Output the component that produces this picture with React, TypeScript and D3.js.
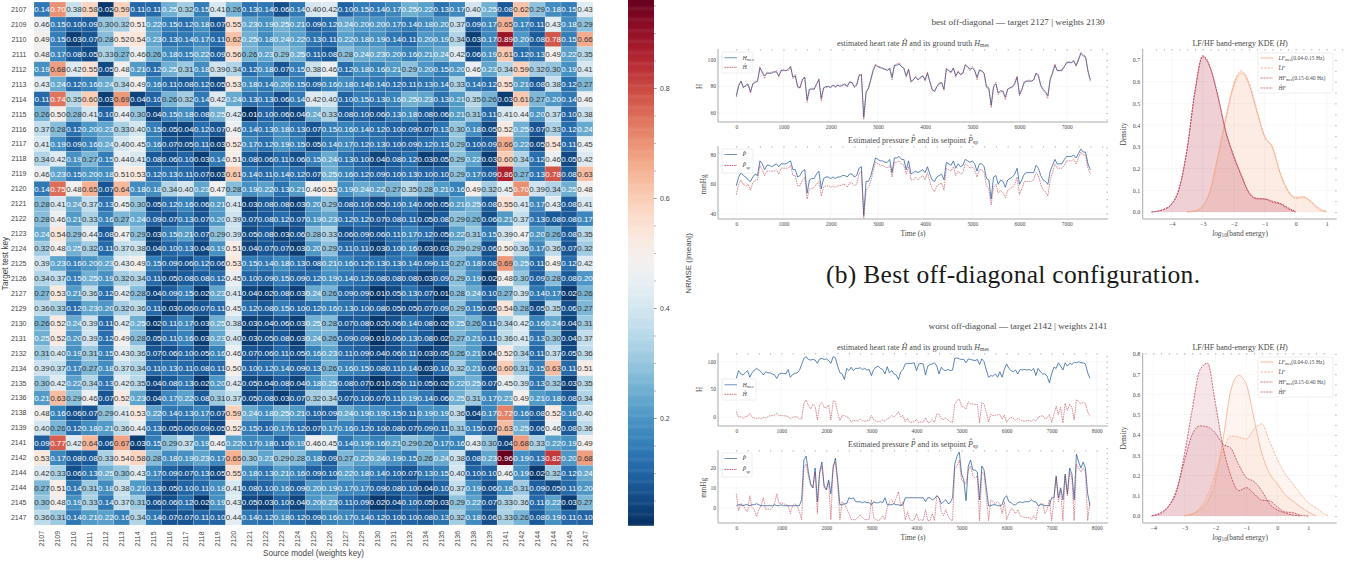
import * as d3 from "d3";
import { useRef, useEffect } from "react";

const keys = ["2107","2109","2110","2111","2112","2113","2114","2115","2116","2117","2118","2119","2120","2121","2122","2123","2124","2125","2126","2127","2129","2130","2131","2132","2134","2135","2136","2138","2139","2141","2142","2144","2144","2145","2147"];

const nrmse = [
  [.14,.70,.38,.58,.02,.59,.11,.11,.25,.32,.15,.41,.26,.13,.14,.06,.14,.40,.42,.10,.15,.14,.17,.25,.22,.13,.17,.40,.25,.08,.62,.29,.18,.15,.43],
  [.46,.15,.10,.09,.30,.32,.51,.22,.15,.12,.18,.07,.55,.23,.19,.25,.21,.09,.12,.24,.20,.20,.17,.14,.18,.20,.37,.09,.17,.65,.17,.11,.43,.18,.29],
  [.49,.15,.03,.07,.28,.52,.54,.23,.13,.14,.17,.11,.62,.25,.18,.24,.22,.13,.11,.22,.18,.19,.14,.11,.20,.19,.34,.03,.17,.89,.20,.08,.78,.15,.66],
  [.48,.17,.08,.05,.33,.27,.46,.26,.18,.15,.22,.09,.56,.26,.23,.29,.25,.11,.08,.28,.24,.23,.20,.16,.21,.24,.42,.06,.19,.61,.12,.13,.49,.22,.35],
  [.19,.68,.42,.55,.05,.48,.21,.12,.25,.31,.18,.39,.34,.12,.18,.07,.15,.38,.46,.12,.18,.16,.21,.29,.20,.15,.20,.46,.23,.34,.59,.32,.30,.19,.41],
  [.43,.24,.12,.16,.24,.34,.49,.16,.11,.08,.12,.05,.53,.18,.14,.20,.15,.09,.16,.18,.14,.14,.12,.11,.13,.14,.33,.14,.12,.55,.21,.08,.38,.12,.27],
  [.11,.74,.35,.60,.03,.69,.04,.10,.26,.32,.14,.42,.24,.13,.13,.06,.14,.42,.40,.10,.15,.13,.16,.25,.23,.13,.21,.35,.26,.03,.61,.27,.20,.14,.46],
  [.26,.50,.28,.41,.10,.44,.30,.04,.15,.18,.08,.25,.42,.01,.10,.06,.04,.24,.33,.08,.10,.06,.13,.18,.08,.06,.21,.31,.11,.41,.44,.20,.37,.10,.38],
  [.37,.28,.12,.20,.23,.33,.40,.15,.05,.04,.12,.07,.46,.14,.13,.18,.13,.07,.15,.16,.14,.12,.10,.09,.07,.13,.30,.18,.05,.52,.25,.07,.33,.12,.24],
  [.41,.19,.09,.16,.24,.40,.45,.16,.07,.05,.11,.03,.52,.17,.12,.19,.15,.05,.14,.17,.12,.13,.10,.09,.12,.13,.29,.10,.09,.66,.22,.05,.54,.11,.45],
  [.34,.42,.19,.27,.15,.44,.41,.08,.06,.10,.03,.14,.51,.08,.06,.11,.06,.15,.24,.13,.10,.04,.08,.12,.03,.05,.29,.22,.03,.60,.34,.12,.46,.05,.42],
  [.46,.23,.15,.20,.18,.51,.53,.12,.13,.11,.07,.03,.61,.14,.11,.14,.12,.07,.25,.16,.12,.09,.10,.13,.10,.10,.29,.17,.09,.86,.27,.13,.78,.08,.63],
  [.14,.75,.48,.65,.07,.64,.18,.18,.34,.40,.23,.47,.28,.19,.22,.13,.21,.46,.53,.19,.24,.22,.27,.35,.28,.21,.16,.49,.32,.45,.70,.39,.34,.25,.48],
  [.28,.41,.24,.37,.13,.45,.30,.05,.12,.16,.06,.21,.41,.03,.08,.08,.03,.20,.29,.08,.10,.05,.10,.14,.06,.05,.21,.25,.08,.55,.41,.17,.43,.08,.41],
  [.28,.46,.21,.33,.16,.27,.24,.09,.07,.13,.07,.20,.39,.07,.08,.12,.07,.19,.23,.12,.12,.07,.08,.11,.05,.08,.29,.26,.06,.21,.37,.13,.08,.08,.17],
  [.24,.54,.29,.44,.08,.47,.29,.03,.15,.21,.07,.29,.39,.05,.08,.03,.06,.28,.33,.06,.09,.06,.11,.17,.12,.05,.22,.31,.15,.39,.47,.20,.26,.08,.35],
  [.32,.48,.25,.32,.11,.37,.38,.04,.10,.13,.04,.19,.51,.04,.07,.07,.03,.20,.29,.11,.11,.03,.10,.16,.03,.03,.29,.29,.06,.50,.36,.17,.36,.07,.32],
  [.39,.23,.16,.20,.23,.43,.49,.15,.09,.06,.12,.06,.53,.15,.14,.18,.13,.08,.21,.16,.12,.13,.13,.14,.09,.13,.27,.18,.08,.69,.25,.11,.49,.12,.42],
  [.34,.37,.15,.25,.19,.32,.34,.11,.05,.08,.08,.12,.45,.10,.09,.15,.09,.12,.19,.14,.12,.08,.08,.08,.03,.09,.29,.19,.02,.48,.30,.09,.28,.08,.20],
  [.27,.53,.21,.36,.12,.42,.28,.04,.09,.15,.02,.23,.41,.04,.02,.08,.03,.24,.26,.09,.09,.01,.05,.13,.07,.01,.28,.24,.10,.27,.39,.14,.17,.02,.26],
  [.36,.33,.12,.23,.20,.32,.36,.11,.03,.06,.07,.11,.45,.12,.08,.15,.10,.12,.16,.13,.10,.08,.05,.05,.07,.09,.29,.15,.05,.54,.28,.05,.35,.06,.27],
  [.26,.52,.24,.39,.11,.42,.25,.02,.11,.17,.03,.25,.38,.03,.04,.06,.03,.25,.28,.07,.08,.02,.06,.14,.08,.02,.25,.26,.11,.34,.42,.16,.24,.04,.31],
  [.25,.52,.20,.39,.12,.49,.28,.05,.11,.16,.03,.23,.40,.03,.05,.08,.03,.24,.26,.09,.09,.01,.06,.13,.08,.02,.27,.21,.11,.36,.41,.13,.30,.04,.37],
  [.31,.40,.19,.31,.15,.43,.36,.07,.06,.10,.05,.16,.46,.07,.06,.11,.05,.16,.23,.11,.09,.04,.06,.11,.03,.05,.26,.21,.04,.52,.34,.11,.37,.05,.36],
  [.39,.37,.17,.27,.18,.37,.34,.11,.13,.11,.08,.11,.50,.10,.12,.14,.09,.13,.26,.16,.15,.08,.11,.14,.03,.10,.32,.21,.06,.60,.31,.15,.63,.11,.51],
  [.30,.42,.22,.34,.13,.42,.35,.04,.08,.13,.02,.20,.42,.05,.04,.08,.04,.18,.25,.08,.07,.01,.05,.11,.05,.02,.22,.25,.07,.45,.39,.13,.32,.03,.35],
  [.21,.63,.29,.46,.07,.52,.23,.04,.17,.22,.08,.31,.37,.05,.08,.03,.07,.32,.34,.07,.10,.07,.11,.19,.14,.06,.25,.31,.17,.23,.49,.21,.18,.08,.34],
  [.48,.16,.06,.07,.29,.41,.53,.22,.14,.13,.17,.07,.59,.24,.18,.25,.21,.10,.09,.24,.19,.19,.15,.11,.19,.19,.36,.04,.17,.72,.16,.08,.52,.16,.40],
  [.40,.26,.12,.18,.21,.36,.44,.13,.05,.06,.09,.05,.52,.15,.10,.17,.12,.07,.17,.16,.12,.10,.08,.07,.09,.11,.31,.15,.07,.63,.25,.06,.46,.08,.36],
  [.09,.77,.42,.64,.06,.67,.03,.15,.29,.37,.19,.46,.22,.17,.18,.10,.19,.46,.45,.14,.19,.16,.21,.29,.26,.17,.16,.43,.30,.04,.68,.33,.22,.19,.49],
  [.53,.17,.08,.08,.33,.54,.58,.28,.18,.19,.23,.17,.65,.30,.23,.29,.28,.18,.09,.27,.22,.24,.19,.15,.26,.24,.38,.08,.23,.96,.19,.13,.82,.20,.68],
  [.42,.33,.06,.13,.25,.30,.43,.17,.09,.07,.13,.05,.55,.18,.13,.21,.16,.09,.10,.22,.18,.14,.10,.07,.13,.15,.40,.10,.10,.46,.19,.02,.32,.12,.24],
  [.27,.51,.14,.31,.18,.38,.21,.13,.05,.10,.11,.18,.41,.08,.10,.16,.09,.20,.19,.17,.17,.09,.08,.10,.04,.10,.37,.19,.06,.18,.31,.09,.05,.11,.20],
  [.30,.48,.19,.33,.14,.37,.31,.06,.06,.12,.02,.19,.43,.05,.03,.10,.04,.20,.23,.11,.09,.02,.04,.10,.05,.03,.29,.22,.07,.33,.36,.11,.22,.03,.27],
  [.36,.31,.14,.21,.22,.16,.34,.14,.07,.07,.11,.10,.44,.14,.12,.18,.12,.09,.16,.17,.14,.12,.10,.10,.08,.13,.32,.18,.06,.33,.26,.08,.19,.11,.10],
];

const cbarTicks = [0.2, 0.4, 0.6, 0.8];

// best off-diagonal, one sample every 50 s
const bestHmes = [
  73,81,84,79,81,82,76,82,83,84,94,91,88,90,90,90,91,91,88,92,
  92,92,93,95,87,88,80,79,85,87,70,78,78,78,82,85,71,79,80,80,
  79,81,80,81,80,81,82,80,83,83,80,81,88,89,57,76,79,85,92,96,
  95,94,94,93,92,94,87,96,96,97,95,94,88,93,84,85,87,85,87,88,
  85,90,84,78,76,80,82,83,78,93,92,91,94,88,91,89,90,96,95,93,
  94,92,87,92,92,90,80,79,66,80,82,75,77,76,72,78,79,80,82,87,
  74,78,83,84,84,84,85,90,88,81,78,76,73,85,90,96,92,92,92,95,
  98,98,98,99,96,100,105,103,102,92,85,
];
const bestHhat = [
  72,80,84,80,80,81,75,82,84,84,95,90,86,91,90,91,91,92,87,92,
  93,92,92,95,86,89,79,79,86,87,68,77,79,78,81,86,69,79,79,80,
  80,81,79,81,81,81,81,80,84,83,79,81,89,89,55,75,78,86,93,97,
  95,95,93,93,93,93,85,96,97,98,95,93,87,93,83,85,88,85,86,88,
  84,91,83,77,77,80,83,83,77,94,92,90,94,87,92,89,90,97,95,92,
  95,93,85,93,91,90,79,78,64,79,83,74,76,77,70,78,79,79,83,88,
  73,77,84,84,85,84,85,90,89,80,77,75,71,86,91,97,92,92,93,95,
  98,99,98,100,95,101,106,104,103,91,84,
];
const bestP = [
  59,65,68,66,65,63,62,65,67,66,76,74,70,73,73,72,73,74,72,74,
  74,74,75,76,70,70,65,66,69,70,54,63,64,64,67,69,57,64,65,65,
  64,65,64,65,65,66,66,65,67,67,65,66,71,72,39,62,62,66,72,78,
  77,76,76,75,75,77,68,78,78,79,77,77,70,76,67,68,69,68,69,70,
  68,72,67,63,62,65,66,67,63,75,74,73,76,71,74,72,73,77,76,75,
  76,74,69,74,74,72,64,63,50,65,66,60,63,62,58,63,64,65,67,71,
  60,63,67,68,68,68,68,73,71,66,63,62,60,69,73,77,74,74,74,77,
  79,79,79,80,78,81,84,82,82,74,70,
];
const bestPsp = [
  53,60,63,60,59,60,56,61,63,63,73,70,66,69,69,69,69,70,67,71,
  71,71,71,73,66,66,59,59,63,65,50,57,57,58,60,62,52,58,59,59,
  58,59,58,59,59,60,60,58,61,61,59,60,67,69,37,56,58,62,69,75,
  74,73,73,72,71,73,65,75,75,76,74,73,67,72,63,63,65,63,65,66,
  63,68,62,57,55,59,60,61,56,71,70,69,72,66,69,67,68,74,73,71,
  72,70,65,70,70,68,59,57,46,58,60,54,56,54,51,56,57,58,60,65,
  53,57,62,62,62,62,63,68,66,60,56,55,52,63,68,74,71,71,71,73,
  76,76,76,77,74,78,82,80,80,71,67,
];

// worst off-diagonal, one sample every 50 s
const worstHmes = [
  70,84,78,76,80,84,72,80,85,88,85,82,76,82,80,80,78,76,70,78,
  79,79,78,86,72,77,79,80,84,95,106,109,104,103,104,103,97,105,106,104,
  105,102,97,109,107,92,80,78,68,88,84,90,84,88,88,89,86,88,85,86,
  75,86,90,92,88,86,78,91,80,84,78,76,68,82,86,96,97,97,97,98,
  84,96,97,96,76,92,95,96,98,92,78,90,85,84,86,84,85,106,107,105,
  104,104,98,105,104,103,102,104,95,105,100,85,72,75,74,78,72,82,72,86,
  96,88,84,82,85,78,86,85,86,85,86,84,88,75,88,82,78,78,74,62,
  78,90,88,98,92,85,98,92,97,95,99,98,100,98,98,96,80,70,
];
const worstHhat = [
  10,0,2,-2,1,2,7,0,-1,-2,-1,-3,0,-1,1,3,3,4,7,3,
  3,3,2,2,-3,0,1,1,-3,-3,25,31,22,15,24,20,-5,22,27,18,
  17,22,-5,30,28,8,-6,3,3,1,-1,-8,-6,-6,-7,-3,-6,-7,-6,-6,
  3,-5,-7,-8,-7,-5,-7,-3,-1,3,1,4,10,1,3,-8,-2,-9,-9,-8,
  -4,-10,-8,-9,-1,-9,-9,-4,-9,6,6,-3,-4,-1,-5,-8,-9,24,30,33,
  20,18,15,28,24,24,23,23,-10,26,24,8,-8,5,3,4,4,5,-3,4,
  -9,-3,0,-2,-5,-2,-5,-6,-7,-6,-6,-7,-4,-7,0,2,3,-3,-1,5,
  -9,5,20,5,18,-10,25,12,24,18,-5,32,28,24,27,25,10,2,
];
const worstP = [
  1,1.5,1.5,1,1.5,1.5,1,1.5,1.5,2,1.5,1,1,1,1,1,1,1.5,1,1,
  1.5,1,1,1,1,1,1,1,1,4,24,26,18,12,10,20,3,18,23,11,
  9,14,7,20,25,14,1.5,1.5,2,2,5,4.5,5,3,3,3,2.5,3,2.5,2.5,
  1.5,3,2.5,2.5,3,2.5,5,1.5,1.5,1.5,2,1.5,1.5,1,1.5,5,5,5,5,5,
  5,5,5,5,3,5,5,4,4.5,6,5,2,3,4,2,2.5,5,22,26,28,
  17,14,3.5,21,24,19,19,18,4,21,19,10,1,1,1.5,1.5,1,1,1.5,5,
  6,3,2.5,1.5,1.5,2.5,3,2.5,3,3,3,4,3,3,1,1.5,1.5,1,1,1,
  5,5,16,5,10,4,17,7,20,17,4,27,23,20,23,20,7,1,
];
const worstPsp = [
  7,-1.5,2,1.5,-1,-2,6,0,-1,-4.5,-1,1,5,-1,-.5,-1,0,2,7,2,
  2.5,2,1.5,1,-3,1,2,1,-2,-6,20,22,16,11,10,18,-3,17,21,10,
  9,13,-6,21,23,12,-6,3,2,-.5,-3,-6,-6,-6,-5,-3.5,-5,-6,-6,-6,
  4,-5,-6,-6.5,-6,-4,-6,0,3,4,2,5,8,1,3,-6,-2,-6,-6.5,-6,
  -3,-6.5,-6,-6.5,-1,-6.5,-6.5,-3,-6.5,6,5,-2,-4,-1,-4,-6,-6.5,20,21,24,
  14,13,12,19,21,16,15,16,-6.5,18,17,6,-6.5,4,3,2,3,2,-3,3,
  -6,-3,-.5,-1,-3,-1,-4,-4.5,-5,-5,-5,-6,-4,-6,0,2,2,-3,-1,4,
  -6.5,4,15,3,9,-6.5,16,6,18,15,-6.5,22,20,18,20,18,-6.5,3,
];

// KDE curves, null where the curve has ended
const bestGrid = [-4.65,-4.25,-4,-3.75,-3.5,-3.25,-3,-2.75,-2.5,-2.25,-2,-1.75,-1.5,-1.25,-1,-.75,-.5,-.25,0,.25,.5,.75,1];
const bestLFmes = [null,null,null,null,0,.004,.025,.10,.26,.43,.58,.64,.585,.46,.345,.30,.18,.10,.068,.07,.045,.012,0];
const bestLFhat = [null,null,null,null,.001,.006,.028,.105,.265,.44,.59,.65,.595,.47,.35,.295,.175,.095,.062,.067,.05,.018,.004];
const bestHFmes = [0,.012,.035,.11,.29,.55,.715,.66,.53,.37,.26,.17,.085,.06,.06,.045,.037,.015,0,null,null,null,null];
const bestHFhat = [0,.013,.038,.115,.295,.56,.72,.665,.525,.365,.255,.165,.09,.063,.06,.05,.04,.02,.002,null,null,null,null];

const worstGrid = [-4.05,-3.75,-3.5,-3.25,-3,-2.75,-2.5,-2.25,-2,-1.75,-1.5,-1.25,-1,-.75,-.5,-.25,0,.25,.5,.75,1,1.25,1.5,1.65];
const worstLFmes = [null,null,null,null,0,.01,.03,.07,.17,.38,.62,.695,.65,.48,.31,.21,.16,.105,.075,.045,.02,0,null,null];
const worstLFhat = [null,null,null,null,.003,.01,.04,.10,.21,.32,.395,.39,.38,.43,.455,.37,.28,.21,.16,.11,.065,.04,.012,0];
const worstHFmes = [.001,.018,.05,.12,.30,.52,.72,.755,.56,.34,.20,.125,.14,.11,.078,.075,.045,.02,.017,.004,0,null,null,null];
const worstHFhat = [.001,.012,.05,.13,.27,.40,.445,.44,.41,.355,.335,.255,.19,.17,.125,.06,.03,.015,.005,0,null,null,null,null];

const BLUE = "#2c5f9e";
const RED = "#b2182b";
const ORANGE = "#f4a582";
const DEEP = "#b8324a";
const SERIF = "'Liberation Serif', serif";
const SANS = "'Liberation Sans', sans-serif";
const INK = "#4a4a4a";

const sub = (s: string) => <tspan fontSize="70%" dy="1.4">{s}</tspan>;
const it = (s: string) => <tspan fontStyle="italic">{s}</tspan>;

function Axis({ make, transform, size, ink = INK, font = SERIF }: any) {
  const ref = useRef<SVGGElement>(null);
  useEffect(() => {
    const g = d3.select(ref.current).call(make);
    g.select(".domain").remove();
    g.selectAll("line").attr("stroke", "#777").attr("stroke-width", 0.5);
    g.selectAll("text").attr("font-size", size).attr("font-family", font).attr("fill", ink);
    g.attr("font-family", font);
  });
  return <g ref={ref} transform={transform} />;
}

function Frame({ x, y, L, R, T, B, xTicks, yTicks, xMinor, yMinor }: any) {
  return (
    <g>
      <g stroke="#f1f1f1" strokeWidth="0.5">
        {xTicks.map((t: number) => <line key={t} x1={x(t)} x2={x(t)} y1={T} y2={B} />)}
        {yTicks.map((t: number) => <line key={t} x1={L} x2={R} y1={y(t)} y2={y(t)} />)}
      </g>
      <Axis make={d3.axisTop(x).tickValues(xMinor).tickSize(-1.5).tickFormat(() => "")} transform={`translate(0,${T})`} size={0} />
      <Axis make={d3.axisRight(y).tickValues(yMinor).tickSize(-1.5).tickFormat(() => "")} transform={`translate(${R},0)`} size={0} />
      <Axis make={d3.axisBottom(x).tickValues(xTicks).tickSize(0).tickPadding(3).tickFormat(d3.format("d"))} transform={`translate(0,${B})`} size={5.4} />
      <line x1={L} x2={R} y1={B} y2={B} stroke="#aaa" strokeWidth="1" />
      <line x1={L} x2={L} y1={T} y2={B} stroke="#aaa" strokeWidth="1" />
    </g>
  );
}

function Legend({ x, y, w, h, rows, rowH, pad = 1, lineW = 12.5, size = 6 }: any) {
  return (
    <g>
      <rect x={x} y={y} width={w} height={h} fill="white" fillOpacity="0.85" stroke="#ddd" strokeWidth="0.5" rx="1" />
      {rows.map((r: any, i: number) => {
        const ry = y + rowH * (i + 0.5) + pad;
        return (
          <g key={i}>
            <line x1={x + 2.5} x2={x + 2.5 + lineW} y1={ry} y2={ry} stroke={r.color} strokeOpacity={r.op ?? 0.85} strokeWidth={r.sw ?? 0.8} strokeDasharray={r.dash} />
            <text x={x + 8 + lineW} y={ry + 1.9} fontSize={size} fontFamily={SERIF} fill={INK}>{r.label}</text>
          </g>
        );
      })}
    </g>
  );
}

function SeriesPanel({ t, a, b, colorA, colorB, dashB, xScale, yScale, T, B, xTicks, yTicks, yMinor, xMinor, title, yLabel, yLabelX, legend }: any) {
  const L = 718;
  const R = 1108;
  const line = d3.line<number>((_, i) => xScale(t[i]), (d) => yScale(d));
  return (
    <g>
      <Frame x={xScale} y={yScale} L={L} R={R} T={T} B={B} xTicks={xTicks} yTicks={yTicks} xMinor={xMinor} yMinor={yMinor} />
      <g textAnchor="end" fontSize="5.6" fontFamily={SERIF} fill={INK}>
        {yTicks.map((v: number) => <text key={v} x={L - 2} y={yScale(v) + 1.9}>{v}</text>)}
      </g>
      <path d={line(a) ?? ""} fill="none" stroke={colorA} strokeOpacity="0.85" strokeWidth="0.9" strokeLinejoin="round" />
      <path d={line(b) ?? ""} fill="none" stroke={colorB} strokeOpacity="0.7" strokeWidth="0.7" strokeDasharray={dashB} />
      <text x={913} y={T - 3.5} textAnchor="middle" fontSize="8" fontFamily={SERIF} fill={INK}>{title}</text>
      <text transform={`translate(${yLabelX},${(yScale(yTicks[0]) + yScale(yTicks[yTicks.length - 1])) / 2}) rotate(-90)`} textAnchor="middle" fontSize="7.2" fontFamily={SERIF} fill={INK}>{yLabel}</text>
      <Legend {...legend} />
    </g>
  );
}

function KdePanel({ grid, lfMes, lfHat, hfMes, hfHat, xScale, yScale, T, B, yTicks, legendY }: any) {
  const L = 1142.7;
  const R = 1336.7;
  const xTicks = [-4, -3, -2, -1, 0, 1];
  const xMinor = d3.range(-4.5, 1.6, 0.25);
  const yMinor = d3.range(0, yScale.domain()[1] + 0.001, 0.05);
  const defined = (d: number | null) => d !== null;
  const line = d3.line<any>().defined(defined).x((_, i) => xScale(grid[i])).y((d) => yScale(d)).curve(d3.curveMonotoneX);
  const area = d3.area<any>().defined(defined).x((_, i) => xScale(grid[i])).y0(yScale(0)).y1((d) => yScale(d)).curve(d3.curveMonotoneX);
  const series = [
    { v: lfMes, color: ORANGE, dash: undefined },
    { v: lfHat, color: ORANGE, dash: "2.5 1" },
    { v: hfMes, color: DEEP, dash: "2 1" },
    { v: hfHat, color: DEEP, dash: "2 1" },
  ];
  return (
    <g>
      <g stroke="#f1f1f1" strokeWidth="0.5">
        {xTicks.map((t) => <line key={t} x1={xScale(t)} x2={xScale(t)} y1={T} y2={B} />)}
        {yTicks.map((t: number) => <line key={t} x1={L} x2={R} y1={yScale(t)} y2={yScale(t)} />)}
      </g>
      {series.map((s, i) => <path key={i} d={area(s.v) ?? ""} fill={s.color} fillOpacity={i < 2 ? 0.11 : 0.12} />)}
      {series.map((s, i) => <path key={i} d={line(s.v) ?? ""} fill="none" stroke={s.color} strokeOpacity="0.9" strokeWidth="0.8" strokeDasharray={s.dash} />)}
      <Axis make={d3.axisTop(xScale).tickValues(xMinor).tickSize(-1.5).tickFormat(() => "")} transform={`translate(0,${T})`} size={0} />
      <Axis make={d3.axisRight(yScale).tickValues(yMinor).tickSize(-1.5).tickFormat(() => "")} transform={`translate(${R},0)`} size={0} />
      <Axis make={d3.axisBottom(xScale).tickValues(xTicks).tickSize(0).tickPadding(3).tickFormat(d3.format("d"))} transform={`translate(0,${B})`} size={6} />
      <Axis make={d3.axisLeft(yScale).tickValues(yTicks).tickSize(0).tickPadding(2.5).tickFormat(d3.format(".1f"))} transform={`translate(${L},0)`} size={6} />
      <line x1={L} x2={R} y1={B} y2={B} stroke="#aaa" strokeWidth="1" />
      <line x1={L} x2={L} y1={T} y2={B} stroke="#aaa" strokeWidth="1" />
      <text x={1240} y={T - 3.5} textAnchor="middle" fontSize="8" fontFamily={SERIF} fill={INK}>LF/HF band-energy KDE ({it("H")})</text>
      <text x={1240} y={B + 17} textAnchor="middle" fontSize="7.4" fontFamily={SERIF} fill={INK}>{it("log")}{sub("10")}<tspan dy="-1.4">(band energy)</tspan></text>
      <text transform={`translate(1125.5,${(T + B) / 2}) rotate(-90)`} textAnchor="middle" fontSize="7.4" fontFamily={SERIF} fill={INK}>Density</text>
      <Legend x={1258} y={legendY} w={75} h={40} rowH={10} pad={0} size={5.6} rows={[
        { color: ORANGE, sw: 0.8, op: 1, label: <>{it("LF")}{sub("mes")}<tspan dy="-1.4">(0.04-0.15 Hz)</tspan></> },
        { color: ORANGE, sw: 0.8, op: 1, dash: "2.5 1", label: it("L\u0302F") },
        { color: DEEP, sw: 0.8, dash: "2 1", label: <>{it("HF")}{sub("mes")}<tspan dy="-1.4">(0.15-0.40 Hz)</tspan></> },
        { color: DEEP, sw: 0.8, dash: "2 1", label: it("H\u0302F") },
      ]} />
    </g>
  );
}

function Heatmap() {
  const x = d3.scaleBand(d3.range(keys.length).map(String), [34, 593]);
  const y = d3.scaleBand(d3.range(keys.length).map(String), [2, 525]);
  const color = d3.scaleSequential((t: number) => d3.interpolateRdBu(1 - t)).domain([0.005, 0.96]);
  const cy = d3.scaleLinear([0.2, 0.8], [418, 88]);
  const strip = d3.range(0.005, 0.96, 0.002);
  return (
    <g fontFamily={SANS}>
      {nrmse.map((row, r) => row.map((v, c) => {
        const cx = x(String(c)) as number;
        const ry = y(String(r)) as number;
        return <rect key={`${r}-${c}`} x={cx} y={ry} width={x.bandwidth()} height={y.bandwidth()} fill={color(v)} stroke="#fff" strokeOpacity="0.35" strokeWidth="0.5" />;
      }))}
      {nrmse.map((row, r) => row.map((v, c) => (
        <text key={`${r}-${c}`} x={(x(String(c)) as number) + x.bandwidth() / 2} y={(y(String(r)) as number) + y.bandwidth() / 2 + 2.9}
          textAnchor="middle" fontSize="8" fill={v >= 0.26 && v < 0.7 ? "#333" : "#fff"}>{d3.format(".2f")(v)}</text>
      )))}
      {keys.map((k, i) => (
        <text key={i} x={26.5} y={(y(String(i)) as number) + y.bandwidth() / 2 + 2.5} textAnchor="end" fontSize="7" fill="#444">{k}</text>
      ))}
      {keys.map((k, i) => (
        <text key={i} transform={`translate(${(x(String(i)) as number) + x.bandwidth() / 2 + 2.5},546.5) rotate(-90)`} fontSize="7" fill="#444">{k}</text>
      ))}
      <text x={313.5} y={556} textAnchor="middle" fontSize="8.2" fill="#444">Source model (weights key)</text>
      <text transform="translate(7.5,263.5) rotate(-90)" textAnchor="middle" fontSize="8.2" fill="#444">Target test key</text>
      {strip.map((s) => <rect key={s} x={628} y={cy(s + 0.002)} width={26} height={cy(s) - cy(s + 0.002) + 0.5} fill={color(s)} />)}
      <Axis make={d3.axisRight(cy).tickValues(d3.range(0.05, 0.96, 0.05)).tickSize(2).tickFormat(() => "")} transform="translate(654,0)" size={0} font={SANS} />
      <Axis make={d3.axisRight(cy).tickValues(cbarTicks).tickSize(3).tickPadding(3).tickFormat(d3.format(".1f"))} transform="translate(654,0)" size={7} ink="#444" font={SANS} />
      <text transform="translate(691,263.5) rotate(-90)" textAnchor="middle" fontSize="8" fill="#444">NRMSE (|mean|)</text>
    </g>
  );
}

export default function App() {
  const bestT = d3.range(0, 7501, 50);
  const worstT = d3.range(0, 7851, 50);
  const bestX = d3.scaleLinear([0, 7000], [736.3, 1066.7]);
  const worstX = d3.scaleLinear([0, 8000], [736.3, 1096.7]);
  const bestTicks = d3.range(0, 7001, 1000);
  const worstTicks = d3.range(0, 8001, 1000);
  const bestMinor = d3.range(0, 7801, 250);
  const worstMinor = d3.range(0, 8201, 250);
  const lineDash = "1.6 0.8";
  return (
    <svg width={1351} height={561} style={{ position: "absolute", left: 0, top: 0, background: "white" }}>
      <Heatmap />

      <text x={1018} y={25} textAnchor="middle" fontSize="9.2" fontFamily={SERIF} fill={INK}>best off-diagonal — target 2127 | weights 2130</text>
      <SeriesPanel t={bestT} a={bestHmes} b={bestHhat} colorA={BLUE} colorB={RED} dashB={lineDash}
        xScale={bestX} yScale={d3.scaleLinear([60, 100], [113, 60])} T={49} B={122}
        xTicks={bestTicks} yTicks={[60, 80, 100]} yMinor={d3.range(55, 106, 5)} xMinor={bestMinor}
        title={<>estimated heart rate {it("H\u0302")} and its ground truth {it("H")}{sub("mes")}</>} yLabel="H" yLabelX={702}
        legend={{ x: 722, y: 52, w: 31, h: 21, rowH: 9.5, rows: [
          { color: BLUE, label: <>{it("H")}{sub("mes")}</> },
          { color: RED, dash: lineDash, label: it("H\u0302") },
        ] }} />
      <SeriesPanel t={bestT} a={bestP} b={bestPsp} colorA={BLUE} colorB={RED} dashB={lineDash}
        xScale={bestX} yScale={d3.scaleLinear([40, 80], [213.7, 155])} T={146} B={219}
        xTicks={bestTicks} yTicks={[40, 60, 80]} yMinor={d3.range(40, 86, 5)} xMinor={bestMinor}
        title={<>Estimated pressure {it("P\u0302")} and its setpoint {it("P\u0302")}{sub("sp")}</>} yLabel="mmHg" yLabelX={706}
        legend={{ x: 722, y: 149, w: 31, h: 24, rowH: 11, pad: 0, rows: [
          { color: BLUE, label: it("P\u0302") },
          { color: RED, dash: lineDash, label: <>{it("P\u0302")}{sub("sp")}</> },
        ] }} />
      <text x={913} y={236} textAnchor="middle" fontSize="7.4" fontFamily={SERIF} fill={INK}>Time ({it("s")})</text>

      <KdePanel grid={bestGrid} lfMes={bestLFmes} lfHat={bestLFhat} hfMes={bestHFmes} hfHat={bestHFhat}
        xScale={d3.scaleLinear([-4, 1], [1171.7, 1326.7])} yScale={d3.scaleLinear([0, 0.7], [212, 60])}
        T={49} B={219} yTicks={[0, 0.1, 0.2, 0.3, 0.4, 0.5, 0.6, 0.7]} legendY={53} />

      <text x={1013} y={282.5} textAnchor="middle" fontSize="25.5" textLength={374} lengthAdjust="spacing" fontFamily={SERIF} fill="#1a1a1a">(b) Best off-diagonal configuration.</text>

      <text x={1018} y={329} textAnchor="middle" fontSize="9.2" fontFamily={SERIF} fill={INK}>worst off-diagonal — target 2142 | weights 2141</text>
      <SeriesPanel t={worstT} a={worstHmes} b={worstHhat} colorA={BLUE} colorB={RED} dashB={lineDash}
        xScale={worstX} yScale={d3.scaleLinear([0, 100], [417.3, 361.7])} T={353} B={426}
        xTicks={worstTicks} yTicks={[0, 50, 100]} yMinor={d3.range(-10, 111, 10)} xMinor={worstMinor}
        title={<>estimated heart rate {it("H\u0302")} and its ground truth {it("H")}{sub("mes")}</>} yLabel="H" yLabelX={702}
        legend={{ x: 722, y: 379, w: 34, h: 21, rowH: 9.5, rows: [
          { color: BLUE, label: <>{it("H")}{sub("mes")}</> },
          { color: RED, dash: lineDash, label: it("H\u0302") },
        ] }} />
      <SeriesPanel t={worstT} a={worstP} b={worstPsp} colorA={BLUE} colorB={RED} dashB={lineDash}
        xScale={worstX} yScale={d3.scaleLinear([0, 20], [507.7, 468])} T={450} B={523}
        xTicks={worstTicks} yTicks={[0, 10, 20]} yMinor={d3.range(-5, 31, 2.5)} xMinor={worstMinor}
        title={<>Estimated pressure {it("P\u0302")} and its setpoint {it("P\u0302")}{sub("sp")}</>} yLabel="mmHg" yLabelX={706}
        legend={{ x: 722, y: 453, w: 30, h: 24, rowH: 11, pad: 0, rows: [
          { color: BLUE, label: it("P\u0302") },
          { color: RED, dash: lineDash, label: <>{it("P\u0302")}{sub("sp")}</> },
        ] }} />
      <text x={913} y={540} textAnchor="middle" fontSize="7.4" fontFamily={SERIF} fill={INK}>Time ({it("s")})</text>

      <KdePanel grid={worstGrid} lfMes={worstLFmes} lfHat={worstLFhat} hfMes={worstHFmes} hfHat={worstHFhat}
        xScale={d3.scaleLinear([-4, 1], [1153.3, 1308.3])} yScale={d3.scaleLinear([0, 0.8], [516, 354])}
        T={353} B={523} yTicks={[0, 0.1, 0.2, 0.3, 0.4, 0.5, 0.6, 0.7, 0.8]} legendY={357} />
    </svg>
  );
}
